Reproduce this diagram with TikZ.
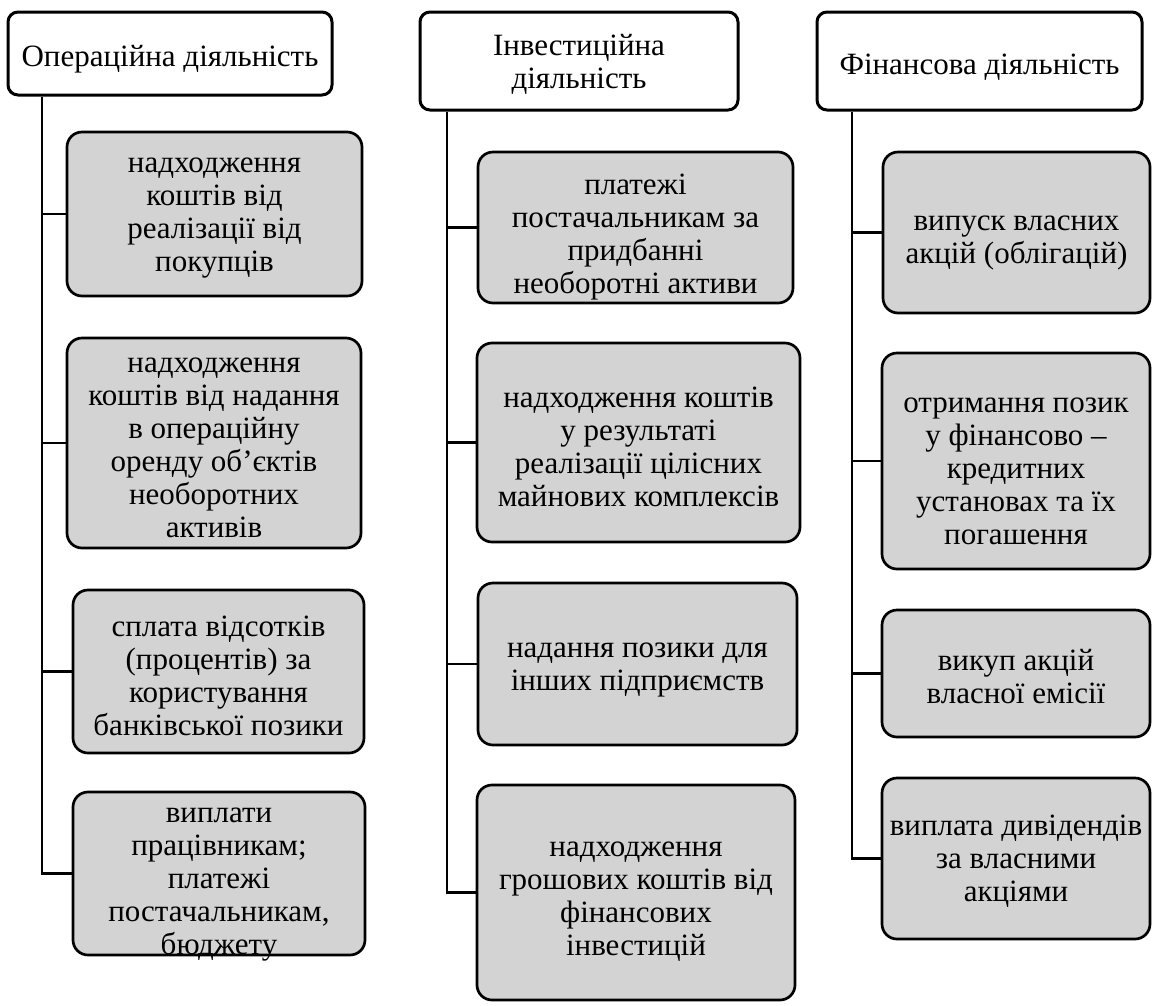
\documentclass[tikz,border=0pt]{standalone}
\usepackage{fontspec}
\setmainfont{Liberation Serif}
\definecolor{boxgray}{RGB}{211,211,211}
\newcommand\tx[2][9]{\raisebox{\dimexpr-#1pt-7.75pt\relax}[0pt][0pt]{\begin{tabular}{@{}c@{}}#2\end{tabular}}}
\begin{document}
\begin{tikzpicture}[x=1pt,y=-1pt,
  head/.style={draw, line width=3pt, rounded corners=10pt, fill=white, inner sep=0pt, font=\fontsize{31}{33}\selectfont},
  item/.style={draw, line width=2.7pt, rounded corners=15pt, fill=boxgray, inner sep=0pt, font=\fontsize{31}{33}\selectfont},
  conn/.style={line width=2.8pt}]
\useasboundingbox (0,0) rectangle (1152,1005);

% left column
\node[head, minimum width=324pt, minimum height=83pt] (H1) at (170,53.5) {\tx[5]{Операційна діяльність}};
\node[item, minimum width=295pt, minimum height=164pt] (L1) at (214.5,214) {\tx[0]{надходження\\коштів від\\реалізації від\\покупців}};
\node[item, minimum width=294pt, minimum height=210pt] (L2) at (214,443) {\tx[4]{надходження\\коштів від надання\\в операційну\\оренду об’єктів\\необоротних\\активів}};
\node[item, minimum width=291pt, minimum height=163pt] (L3) at (218.5,671.5) {\tx[6]{сплата відсотків\\(процентів) за\\користування\\банківської позики}};
\node[item, minimum width=292pt, minimum height=163pt] (L4) at (219,873.5) {\tx[7]{виплати\\працівникам;\\платежі\\постачальникам,\\бюджету}};

% middle column
\node[head, minimum width=318pt, minimum height=98pt] (H2) at (579,61) {\tx[3]{Інвестиційна\\діяльність}};
\node[item, minimum width=315pt, minimum height=151pt] (M1) at (635.5,227.5) {\tx[8]{платежі\\постачальникам за\\придбанні\\необоротні активи}};
\node[item, minimum width=323pt, minimum height=199pt] (M2) at (638.5,442.5) {\tx[6]{надходження коштів\\у результаті\\реалізації цілісних\\майнових комплексів}};
\node[item, minimum width=319pt, minimum height=162pt] (M3) at (637.5,664) {\tx[2]{надання позики для\\інших підприємств}};
\node[item, minimum width=318pt, minimum height=215pt] (M4) at (636,892.5) {\tx[5]{надходження\\грошових коштів від\\фінансових\\інвестицій}};

% right column
\node[head, minimum width=325pt, minimum height=98pt] (H3) at (979.5,61) {\tx[5]{Фінансова діяльність}};
\node[item, minimum width=267pt, minimum height=161pt] (R1) at (1016.5,232.5) {\tx[6]{випуск власних\\акцій (облігацій)}};
\node[item, minimum width=268pt, minimum height=216pt] (R2) at (1016,461) {\tx[9]{отримання позик\\у фінансово –\\кредитних\\установах та їх\\погашення}};
\node[item, minimum width=268pt, minimum height=127pt] (R3) at (1016,673.5) {\tx[5]{викуп акцій\\власної емісії}};
\node[item, minimum width=268pt, minimum height=161pt] (R4) at (1016,858.5) {\tx[2]{виплата дивідендів\\за власними\\акціями}};

% connectors
\coordinate (a1) at (42,0);
\coordinate (a2) at (447,0);
\coordinate (a3) at (852,0);
\draw[conn] (a1 |- H1.south) -- (a1 |- L4.west) -- (L4.west);
\foreach \n in {L1,L2,L3} \draw[conn] (a1 |- \n.west) -- (\n.west);
\draw[conn] (a2 |- H2.south) -- (a2 |- M4.west) -- (M4.west);
\foreach \n in {M1,M2,M3} \draw[conn] (a2 |- \n.west) -- (\n.west);
\draw[conn] (a3 |- H3.south) -- (a3 |- R4.west) -- (R4.west);
\foreach \n in {R1,R2,R3} \draw[conn] (a3 |- \n.west) -- (\n.west);
\end{tikzpicture}
\end{document}
